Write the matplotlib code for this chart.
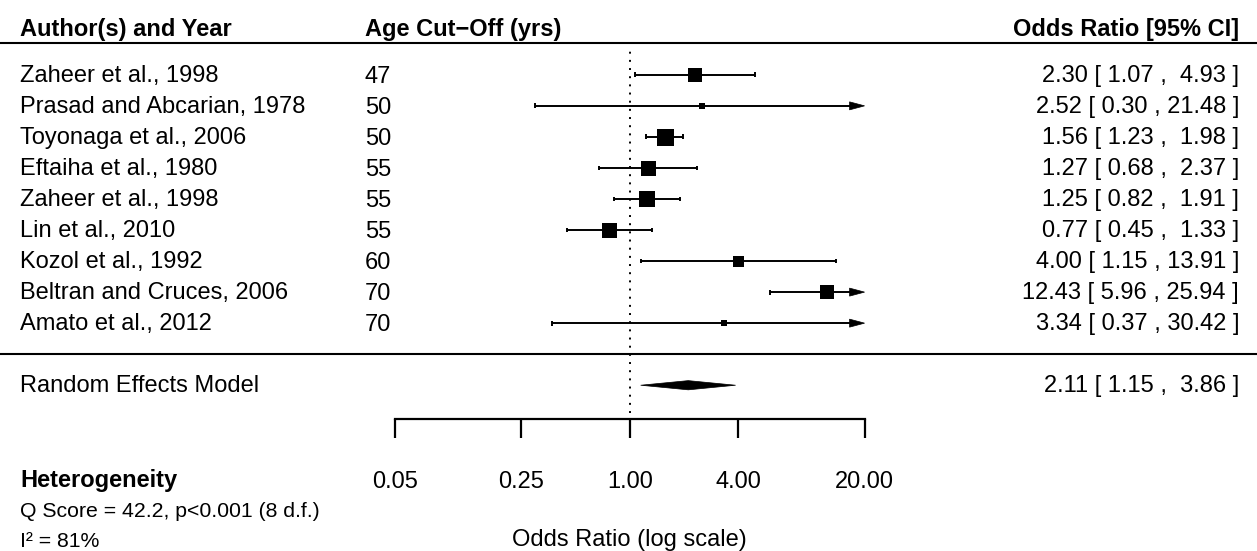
import numpy as np
import matplotlib
matplotlib.use("Agg")
import matplotlib.pyplot as plt
from matplotlib.patches import Polygon

# ---------------- data ----------------
authors = ["Zaheer et al., 1998", "Prasad and Abcarian, 1978", "Toyonaga et al., 2006",
           "Eftaiha et al., 1980", "Zaheer et al., 1998", "Lin et al., 2010",
           "Kozol et al., 1992", "Beltran and Cruces, 2006", "Amato et al., 2012"]
age_cutoff = [47, 50, 50, 55, 55, 55, 60, 70, 70]
or_est = [2.30, 2.52, 1.56, 1.27, 1.25, 0.77, 4.00, 12.43, 3.34]
ci_lower = [1.07, 0.30, 1.23, 0.68, 0.82, 0.45, 1.15, 5.96, 0.37]
ci_upper = [4.93, 21.48, 1.98, 2.37, 1.91, 1.33, 13.91, 25.94, 30.42]
study_weight = [14, 6, 17, 15, 16, 15, 11, 14, 6]   # relative weights (square size)

re_label = "Random Effects Model"
re_est, re_lower, re_upper = 2.11, 1.15, 3.86

axis_ticks = [0.05, 0.25, 1.00, 4.00, 20.00]
q_score, q_p, q_df = 42.2, "p<0.001", 8
i_squared = 81

# ---------------- layout ----------------
FONT = "Liberation Sans"
FS = 17
PX_LN = 78.4      # px per ln unit
PX_ROW = 31.04    # px per row

fig = plt.figure(figsize=(12.57, 5.51), dpi=100)
ax = fig.add_axes([0, 0, 1, 1])
ax.axis("off")
ax.set_xscale("log")
ax.set_xlim(np.exp(-629.7 / PX_LN), np.exp((1257 - 629.7) / PX_LN))
ax.set_ylim(-6.34, 11.41)

xmin_ax, xmax_ax = axis_ticks[0], axis_ticks[-1]
k = len(authors)
rows = np.arange(k, 0, -1)

x_name = np.exp((20 - 629.7) / PX_LN)
x_age = np.exp((365 - 629.7) / PX_LN)
x_ann = np.exp((1239 - 629.7) / PX_LN)
x_left = ax.get_xlim()[0]
x_right = ax.get_xlim()[1]

LW = 1.4
txt_off = 7.2 / PX_ROW
age_off = 8.3 / PX_ROW
cap_h = 2.4 / PX_ROW
arr_len = 15.0 / PX_LN
arr_h = 4.0 / PX_ROW
dia_h = 4.6 / PX_ROW


def fmt(e, lo, hi):
    return f"{e:.2f} [ {lo:.2f} , {hi:5.2f} ]"


# header
ax.text(x_name, 10.254, "Author(s) and Year", fontfamily=FONT, fontsize=FS,
        fontweight="bold", ha="left", va="baseline")
ax.text(x_age, 10.254, "Age Cut\u2212Off (yrs)", fontfamily=FONT, fontsize=FS,
        fontweight="bold", ha="left", va="baseline")
ax.text(x_ann, 10.254, "Odds Ratio [95% CI]", fontfamily=FONT, fontsize=FS,
        fontweight="bold", ha="right", va="baseline")
ax.plot([x_left, x_right], [10.02, 10.02], color="black", lw=1.5, solid_capstyle="butt")

# separator
ax.plot([x_left, x_right], [0.0, 0.0], color="black", lw=1.5, solid_capstyle="butt")

# reference line
ax.plot([1, 1], [-1.9, 9.85], color="black", lw=1.4, linestyle=(0, (1, 3.2)),
        dash_capstyle="butt", zorder=1)

# studies
for i in range(k):
    y = rows[i]
    lo, hi, e = ci_lower[i], ci_upper[i], or_est[i]
    lo_c = max(lo, xmin_ax)
    hi_c = min(hi, xmax_ax)
    if hi > xmax_ax:
        base = np.exp(np.log(xmax_ax) - arr_len)
        line_end = base
        tri = [(base, y + arr_h), (xmax_ax, y), (base, y - arr_h)]
        ax.add_patch(Polygon(tri, closed=True, facecolor="black", edgecolor="black", lw=0.5, zorder=3))
    else:
        line_end = hi_c
        ax.plot([hi_c, hi_c], [y - cap_h, y + cap_h], color="black", lw=LW, solid_capstyle="butt", zorder=3)
    if lo >= xmin_ax:
        ax.plot([lo_c, lo_c], [y - cap_h, y + cap_h], color="black", lw=LW, solid_capstyle="butt", zorder=3)
    ax.plot([lo_c, line_end], [y, y], color="black", lw=LW, solid_capstyle="butt", zorder=3)
    ax.plot([e], [y], marker="s", markersize=study_weight[i] * 0.72, color="black",
            markeredgewidth=0, linestyle="none", zorder=4)

    ax.text(x_name, y - txt_off, authors[i], fontfamily=FONT, fontsize=FS, ha="left", va="baseline")
    ax.text(x_age, y - age_off, str(age_cutoff[i]), fontfamily=FONT, fontsize=FS, ha="left", va="baseline")
    ax.text(x_ann, y - txt_off, fmt(e, lo, hi), fontfamily=FONT, fontsize=FS, ha="right", va="baseline")

# random effects diamond
yre = -1
dia = [(re_lower, yre), (re_est, yre + dia_h), (re_upper, yre), (re_est, yre - dia_h)]
ax.add_patch(Polygon(dia, closed=True, facecolor="black", edgecolor="black", lw=0.5, zorder=4))
ax.text(x_name, yre - txt_off, re_label, fontfamily=FONT, fontsize=FS, ha="left", va="baseline")
ax.text(x_ann, yre - txt_off, fmt(re_est, re_lower, re_upper), fontfamily=FONT, fontsize=FS,
        ha="right", va="baseline")

# x axis
y_axis = -2.1
ax.plot([xmin_ax, xmax_ax], [y_axis, y_axis], color="black", lw=1.6, solid_capstyle="projecting")
for t in axis_ticks:
    ax.plot([t, t], [y_axis, -2.70], color="black", lw=1.6, solid_capstyle="butt")
    ax.text(t, -4.317, f"{t:.2f}", fontfamily=FONT, fontsize=FS, ha="center", va="baseline")
ax.text(1.0, -6.17, "Odds Ratio (log scale)", fontfamily=FONT, fontsize=FS, ha="center", va="baseline")

# heterogeneity
ax.text(x_name, -4.284, "Heterogeneity", fontfamily=FONT, fontsize=FS, fontweight="bold",
        ha="left", va="baseline")
ax.text(x_name, -5.26, f"Q Score = {q_score}, {q_p} ({q_df} d.f.)", fontfamily=FONT, fontsize=15.3,
        ha="left", va="baseline")
ax.text(x_name, -6.22, f"I\u00b2 = {i_squared}%", fontfamily=FONT, fontsize=15.3,
        ha="left", va="baseline")

fig.savefig("out.png", dpi=100)
